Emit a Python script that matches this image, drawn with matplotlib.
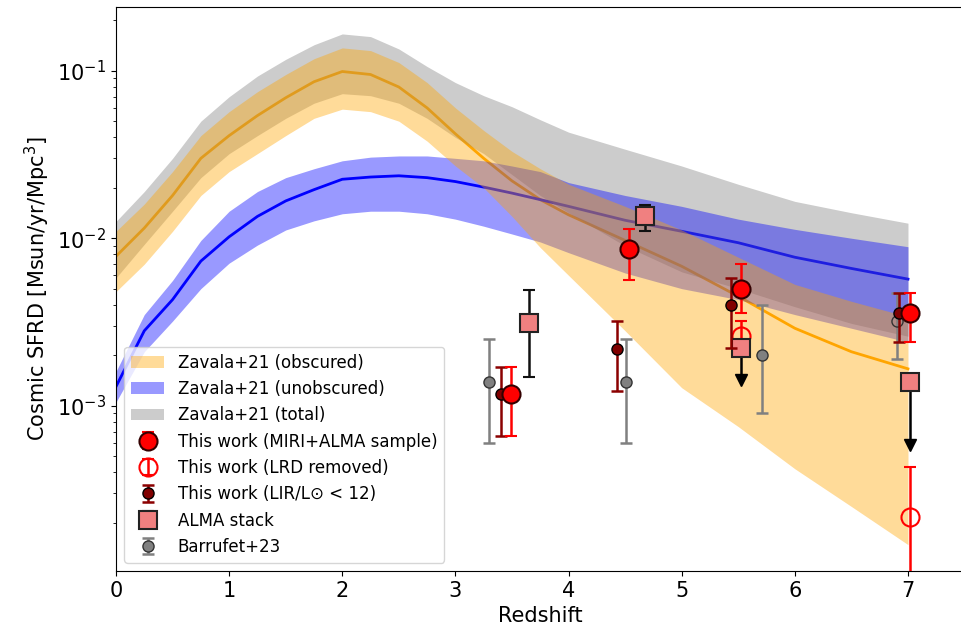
import numpy as np
import matplotlib.pyplot as plt

# Zavala+21 model curves
z_mod = [0, 0.25, 0.5, 0.75, 1, 1.25, 1.5, 1.75, 2, 2.25, 2.5, 2.75, 3,
         3.25, 3.5, 3.75, 4, 4.5, 5, 5.5, 6, 6.5, 7]

obs_med = [0.0078, 0.0115, 0.018, 0.030, 0.041, 0.054, 0.069, 0.086, 0.099, 0.095,
           0.080, 0.060, 0.042, 0.030, 0.022, 0.017, 0.0138, 0.0097, 0.0068,
           0.0045, 0.0029, 0.0021, 0.00166]
obs_hi = [0.011, 0.016, 0.025, 0.041, 0.057, 0.075, 0.095, 0.118, 0.137, 0.132,
          0.112, 0.085, 0.060, 0.044, 0.033, 0.026, 0.021, 0.0155, 0.0112,
          0.0077, 0.0053, 0.0042, 0.0034]
obs_lo = [0.0048, 0.0070, 0.011, 0.018, 0.025, 0.032, 0.041, 0.052, 0.059, 0.057,
          0.050, 0.038, 0.027, 0.020, 0.0135, 0.0088, 0.0060, 0.0028, 0.00128,
          0.00075, 0.00042, 0.00025, 0.000148]

unobs_med = [0.0013, 0.0028, 0.0043, 0.0073, 0.0102, 0.0135, 0.0167, 0.0195, 0.0225,
             0.0232, 0.0236, 0.0230, 0.0218, 0.0202, 0.0186, 0.0170, 0.0155,
             0.0128, 0.0110, 0.0094, 0.0077, 0.0066, 0.0057]
unobs_hi = [0.0016, 0.0035, 0.0056, 0.0097, 0.0145, 0.019, 0.023, 0.026, 0.029,
            0.0305, 0.031, 0.031, 0.030, 0.029, 0.027, 0.025, 0.0215, 0.018,
            0.0155, 0.013, 0.0113, 0.0100, 0.0089]
unobs_lo = [0.00105, 0.0021, 0.0032, 0.0050, 0.0071, 0.0091, 0.0112, 0.0127, 0.0140,
            0.0145, 0.0145, 0.0140, 0.0130, 0.0118, 0.0106, 0.0095, 0.0082,
            0.0062, 0.0050, 0.0043, 0.0035, 0.0029, 0.0024]

tot_hi = [0.0126, 0.019, 0.030, 0.050, 0.070, 0.093, 0.117, 0.143, 0.166, 0.160,
          0.135, 0.106, 0.085, 0.071, 0.061, 0.051, 0.043, 0.034, 0.027, 0.021,
          0.0166, 0.0142, 0.0123]
tot_lo = [0.0058, 0.0092, 0.0145, 0.023, 0.032, 0.041, 0.052, 0.064, 0.073, 0.071,
          0.064, 0.052, 0.040, 0.032, 0.024, 0.018, 0.0142, 0.0090, 0.0063,
          0.0050, 0.0039, 0.0031, 0.0026]

# This work (MIRI+ALMA sample)
z_main = [3.49, 4.53, 5.52, 7.02]
sfrd_main = [0.00118, 0.0086, 0.0050, 0.0036]
lo_main = [0.00066, 0.0056, 0.0036, 0.0024]
hi_main = [0.0017, 0.0114, 0.0070, 0.0047]

# This work (LRD removed)
z_lrd = [5.52, 7.02]
sfrd_lrd = [0.0026, 0.000216]
lo_lrd = [0.0020, 0.00004]
hi_lrd = [0.0032, 0.00043]

# This work (LIR/Lsun < 12)
z_lir = [3.40, 4.43, 5.44, 6.92]
sfrd_lir = [0.00118, 0.00218, 0.0040, 0.0036]
lo_lir = [0.00066, 0.00122, 0.0022, 0.0024]
hi_lir = [0.0017, 0.0032, 0.0058, 0.0047]

# ALMA stack (detections + upper limits)
z_stack = [3.65, 4.68]
sfrd_stack = [0.0031, 0.0136]
lo_stack = [0.00149, 0.011]
hi_stack = [0.0049, 0.0159]
z_stack_ul = [5.52, 7.02]
sfrd_stack_ul = [0.00222, 0.00139]
arrow_end_ul = [0.00142, 0.00058]

# Barrufet+23
z_bar = [3.30, 4.51, 5.71, 6.90]
sfrd_bar = [0.00139, 0.00139, 0.0020, 0.0032]
lo_bar = [0.0006, 0.0006, 0.0009, 0.0019]
hi_bar = [0.0025, 0.0025, 0.0040, 0.0047]


def yerr(v, lo, hi):
    v = np.array(v)
    return [v - np.array(lo), np.array(hi) - v]


fig = plt.figure(figsize=(9.61, 6.35), dpi=100)
ax = fig.add_axes([0.1207, 0.1008, 0.883, 0.888])

ax.plot(z_mod, obs_med, color='orange', lw=2, zorder=1)
ax.plot(z_mod, unobs_med, color='blue', lw=2, zorder=1)
h_tot = ax.fill_between(z_mod, tot_lo, tot_hi, color='gray', alpha=0.4, lw=0, zorder=2)
h_unobs = ax.fill_between(z_mod, unobs_lo, unobs_hi, color='blue', alpha=0.4, lw=0, zorder=2)
h_obs = ax.fill_between(z_mod, obs_lo, obs_hi, color='orange', alpha=0.4, lw=0, zorder=2)

h_bar = ax.errorbar(z_bar[:3], sfrd_bar[:3], yerr=yerr(sfrd_bar[:3], lo_bar[:3], hi_bar[:3]),
                    fmt='o', ms=8, mfc='gray', mec='#333333', ecolor='gray', elinewidth=1.8,
                    capsize=4, capthick=1.8, zorder=4)
ax.errorbar(z_bar[3:], sfrd_bar[3:], yerr=yerr(sfrd_bar[3:], lo_bar[3:], hi_bar[3:]),
            fmt='o', ms=8, mfc='none', mec='#333333', ecolor='gray', elinewidth=1.8,
            capsize=4, capthick=1.8, zorder=4)

h_stack = ax.errorbar(z_stack, sfrd_stack, yerr=yerr(sfrd_stack, lo_stack, hi_stack),
                      fmt='s', ms=13, mfc='#f08080', mec='#222222', mew=1.5, ecolor='#111111',
                      elinewidth=1.8, capsize=4, capthick=1.8, zorder=5)
# upper limits: stem + arrow head
ax.vlines(z_stack_ul, arrow_end_ul, sfrd_stack_ul, color='black', lw=1.8, zorder=5)
ax.plot(z_stack_ul, arrow_end_ul, 'v', ms=9, color='black', zorder=5)
ax.plot(z_stack_ul, sfrd_stack_ul, 's', ms=13, mfc='#f08080', mec='#222222', mew=1.5,
        zorder=5)

h_lir = ax.errorbar(z_lir, sfrd_lir, yerr=yerr(sfrd_lir, lo_lir, hi_lir),
                    fmt='o', ms=8, mfc='#800000', mec='black', ecolor='#8b0000',
                    elinewidth=1.8, capsize=4, capthick=1.8, zorder=6)

h_lrd = ax.errorbar(z_lrd, sfrd_lrd, yerr=yerr(sfrd_lrd, lo_lrd, hi_lrd),
                    fmt='o', ms=13, mfc='none', mec='red', mew=1.5, ecolor='red',
                    elinewidth=1.8, capsize=4, capthick=1.8, zorder=4)

h_main = ax.errorbar(z_main, sfrd_main, yerr=yerr(sfrd_main, lo_main, hi_main),
                     fmt='o', ms=13, mfc='red', mec='#330000', mew=1.5, ecolor='red',
                     elinewidth=1.8, capsize=4, capthick=1.8, zorder=7)

ax.set_yscale('log')
ax.set_xlim(0, 7.5)
ax.set_ylim(1.03e-4, 0.24)
ax.set_xlabel('Redshift', fontsize=15)
ax.set_ylabel('Cosmic SFRD [Msun/yr/Mpc$^3$]', fontsize=15)
ax.tick_params(labelsize=15)

ax.legend([h_obs, h_unobs, h_tot, h_main, h_lrd, h_lir, h_stack, h_bar],
          ['Zavala+21 (obscured)', 'Zavala+21 (unobscured)', 'Zavala+21 (total)',
           'This work (MIRI+ALMA sample)', 'This work (LRD removed)',
           'This work (LIR/L\u2299 < 12)', 'ALMA stack', 'Barrufet+23'],
          loc='lower left', fontsize=12)

fig.savefig('out.png', dpi=100)
